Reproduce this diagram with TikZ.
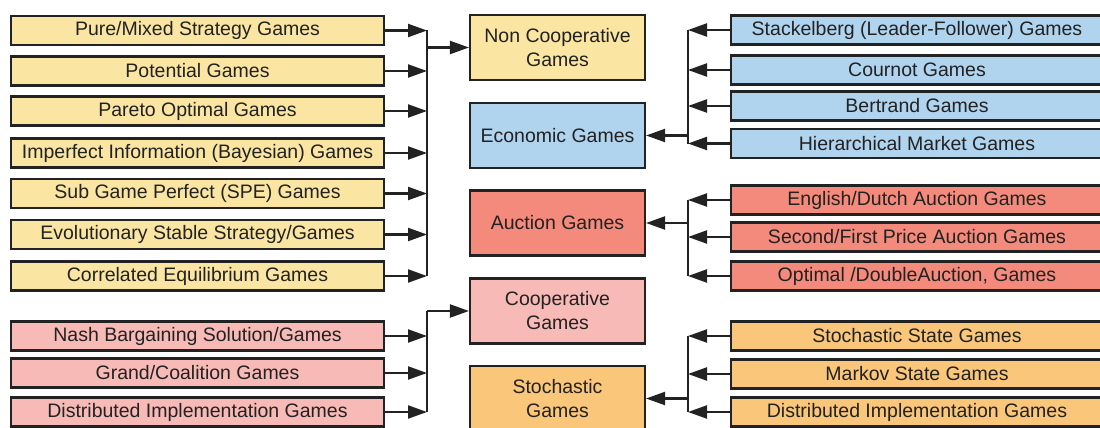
\documentclass[tikz,border=0pt]{standalone}
\usepackage{fontspec}
\setmainfont{Liberation Sans}
\usetikzlibrary{arrows.meta}
\definecolor{yel}{RGB}{250,229,162}
\definecolor{blu}{RGB}{176,211,238}
\definecolor{red}{RGB}{243,138,124}
\definecolor{pnk}{RGB}{247,186,182}
\definecolor{org}{RGB}{249,198,122}
\definecolor{ink}{RGB}{34,34,34}
\tikzset{
  box/.style={draw=ink, line width=2.1pt, inner sep=0pt, text=ink, align=center,
    font=\fontsize{19.5}{24}\selectfont},
  lbox/.style={box, minimum width=373pt, minimum height=29pt},
  rbox/.style={box, minimum width=372pt, minimum height=29pt},
  cbox/.style={box, minimum width=175pt, minimum height=65pt},
  arr/.style={draw=ink, line width=2.1pt, -{Triangle[length=19pt,width=13pt]}},
  bus/.style={draw=ink, line width=2.1pt},
}
\begin{document}
\begin{tikzpicture}[x=1pt,y=-1pt]
\useasboundingbox[fill=white] (0,0) rectangle (1100,428);
% left column
\node[lbox, fill=yel] (L1) at (197.5,30.5) {Pure/Mixed Strategy Games};
\node[lbox, fill=yel] (L2) at (197.5,71) {Potential Games};
\node[lbox, fill=yel] (L3) at (197.5,111) {Pareto Optimal Games};
\node[lbox, fill=yel] (L4) at (197.5,153) {Imperfect Information (Bayesian) Games};
\node[lbox, fill=yel] (L5) at (197.5,193.5) {Sub Game Perfect (SPE) Games};
\node[lbox, fill=yel] (L6) at (197.5,234.5) {Evolutionary Stable Strategy/Games};
\node[lbox, fill=yel] (L7) at (197.5,276) {Correlated Equilibrium Games};
\node[lbox, fill=pnk] (L8) at (197.5,336) {Nash Bargaining Solution/Games};
\node[lbox, fill=pnk] (L9) at (197.5,373) {Grand/Coalition Games};
\node[lbox, fill=pnk] (L10) at (197.5,412) {Distributed Implementation Games};
% centre column
\node[cbox, fill=yel] (NC) at (557.5,47.5) {Non Cooperative\\Games};
\node[cbox, fill=blu] (EC) at (557.5,135.5) {Economic Games};
\node[cbox, fill=red] (AU) at (557.5,223) {Auction Games};
\node[cbox, fill=pnk] (CO) at (557.5,311) {Cooperative\\Games};
\node[cbox, fill=org] (ST) at (557.5,398.5) {Stochastic\\Games};
% right column
\node[rbox, fill=blu] (R1) at (917,30) {Stackelberg (Leader-Follower) Games};
\node[rbox, fill=blu] (R2) at (917,70) {Cournot Games};
\node[rbox, fill=blu] (R3) at (917,106) {Bertrand Games};
\node[rbox, fill=blu] (R4) at (917,143.5) {Hierarchical Market Games};
\node[rbox, fill=red] (R5) at (917,200) {English/Dutch Auction Games};
\node[rbox, fill=red] (R6) at (917,237) {Second/First Price Auction Games};
\node[rbox, fill=red] (R7) at (917,276) {Optimal /DoubleAuction, Games};
\node[rbox, fill=org] (R8) at (917,336) {Stochastic State Games};
\node[rbox, fill=org] (R9) at (917,374) {Markov State Games};
\node[rbox, fill=org] (R10) at (917,412) {Distributed Implementation Games};
% bus coordinates
\coordinate (BL) at (427,0);
\coordinate (BR) at (688,0);
% left connectors
\foreach \n in {L1,L2,L3,L4,L5,L6,L7,L8,L9,L10}
  \draw[arr] (\n.east) -- (\n.east -| BL);
\draw[bus] (L1.east -| BL) -- (L7.east -| BL);
\draw[arr] (NC.west -| BL) -- (NC.west);
\draw[bus] (CO.west -| BL) -- (L10.east -| BL);
\draw[arr] (CO.west -| BL) -- (CO.west);
% right connectors
\foreach \n in {R1,R2,R3,R4,R5,R6,R7,R8,R9,R10}
  \draw[arr] (\n.west) -- (\n.west -| BR);
\draw[bus] (R1.west -| BR) -- (R4.west -| BR);
\draw[arr] (EC.east -| BR) -- (EC.east);
\draw[bus] (R5.west -| BR) -- (R7.west -| BR);
\draw[arr] (AU.east -| BR) -- (AU.east);
\draw[bus] (R8.west -| BR) -- (R10.west -| BR);
\draw[arr] (ST.east -| BR) -- (ST.east);
\end{tikzpicture}
\end{document}
